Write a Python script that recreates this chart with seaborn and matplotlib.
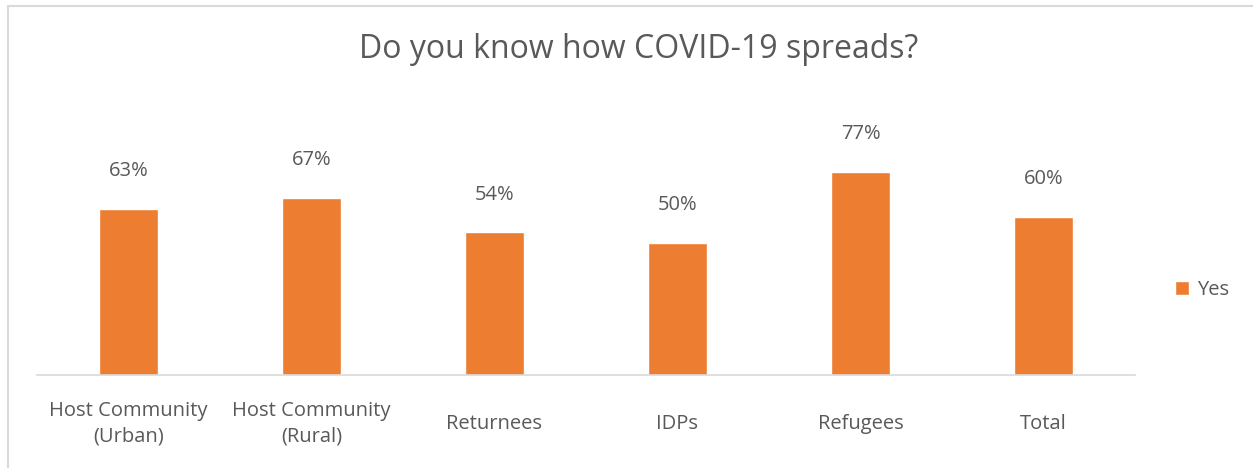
import matplotlib
matplotlib.use('Agg')
import seaborn as sns
import pandas as pd
import matplotlib.pyplot as plt
from matplotlib.lines import Line2D

groups = ["Host Community\n(Urban)", "Host Community\n(Rural)", "Returnees", "IDPs", "Refugees", "Total"]
yes_pct = [63, 67, 54, 50, 77, 60]
series = ["Yes"] * len(groups)

data = pd.DataFrame({"group": groups, "pct": yes_pct, "series": series})

sns.set_style("white")
plt.rcParams['font.family'] = ['Open Sans', 'DejaVu Sans']
grey = "#595959"
orange = "#ED7D31"

fig = plt.figure(figsize=(12.53, 4.68), dpi=100)
ax = fig.add_axes([37/1253, 93/468, 1098/1253, 275/468])

sns.barplot(data=data, x="group", y="pct", hue="series", palette=[orange],
            saturation=1, width=0.32, ax=ax, legend=True)

ax.set_ylim(0, 275/2.64)
ax.set_xlim(-0.5, len(groups) - 0.5)
ax.set(xlabel="", ylabel="", yticks=[])
for s in ["top", "right", "left"]:
    ax.spines[s].set_visible(False)
ax.spines["bottom"].set_color("#d9d9d9")
ax.spines["bottom"].set_linewidth(1.2)
ax.tick_params(axis="x", length=0, pad=35, labelsize=14.5, labelcolor=grey)
for t in ax.get_xticklabels():
    t.set_va("center")
    t.set_linespacing(1.4)

for c in ax.containers:
    ax.bar_label(c, labels=[f"{v:.0f}%" for v in c.datavalues], padding=20,
                 fontsize=14.5, color=grey)

ax.legend(loc="center left", bbox_to_anchor=(1.02, 0.31), frameon=False,
          fontsize=14.5, labelcolor=grey, handlelength=0.7, handleheight=0.7,
          handletextpad=0.4)

fig.text(0.51, 0.895, "Do you know how COVID-19 spreads?", ha="center", va="center",
         fontsize=23, color=grey)

# chart frame (top and left edges visible)
fig.add_artist(Line2D([8/1253, 1], [1 - 6/468, 1 - 6/468], transform=fig.transFigure,
                      color="#d9d9d9", lw=1.5))
fig.add_artist(Line2D([8/1253, 8/1253], [0, 1 - 6/468], transform=fig.transFigure,
                      color="#d9d9d9", lw=1.5))

plt.savefig("out.png", dpi=100)
